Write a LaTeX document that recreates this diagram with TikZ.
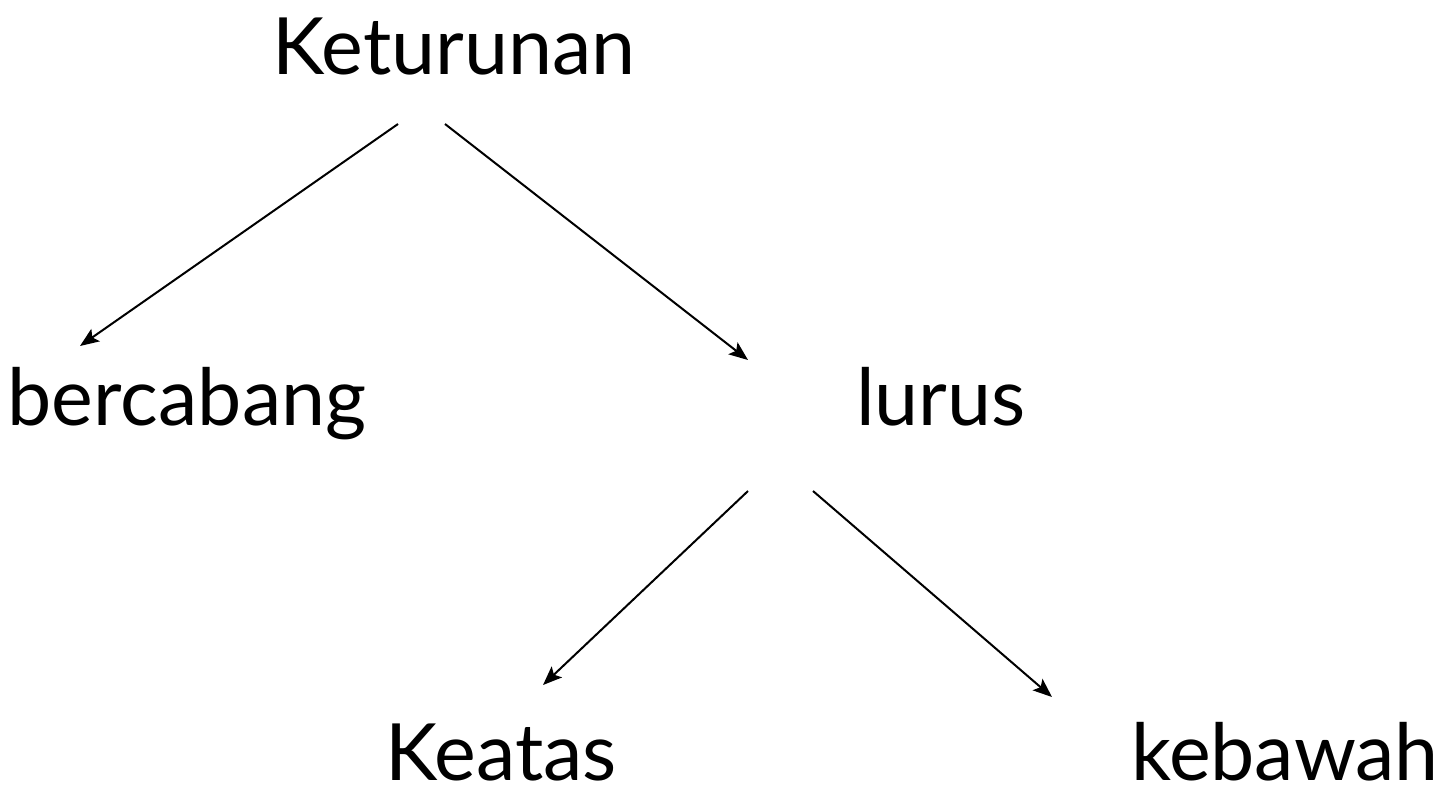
\documentclass[tikz,border=0pt]{standalone}
\usepackage{fontspec}
\setmainfont{Lato}
\usetikzlibrary{arrows.meta}
\begin{document}
\begin{tikzpicture}[x=1pt,y=-1pt,
  label/.style={anchor=base,inner sep=0pt,font=\fontsize{79}{92}\selectfont},
  link/.style={line width=2pt,-{Stealth[length=19pt,width=15pt,inset=4pt]}}]
\useasboundingbox (0,0) rectangle (1445,788);
% words of the tree
\node[label] (ket) at (454,74) {Keturunan};
\node[label] (ber) at (187,425) {bercabang};
\node[label] (lur) at (941,425) {lurus};
\node[label] (kea) at (501,780) {Keatas};
\node[label] (keb) at (1285,780) {kebawah};
% end points of the connectors
\coordinate (ketL) at (398,124);
\coordinate (ketR) at (445,124);
\coordinate (berT) at (80,346);
\coordinate (lurT) at (748,360);
\coordinate (lurL) at (748,491);
\coordinate (lurR) at (813,491);
\coordinate (keaT) at (543,685);
\coordinate (kebT) at (1052,697);
\draw[link] (ketL) -- (berT);
\draw[link] (ketR) -- (lurT);
\draw[link] (lurL) -- (keaT);
\draw[link] (lurR) -- (kebT);
\end{tikzpicture}
\end{document}
